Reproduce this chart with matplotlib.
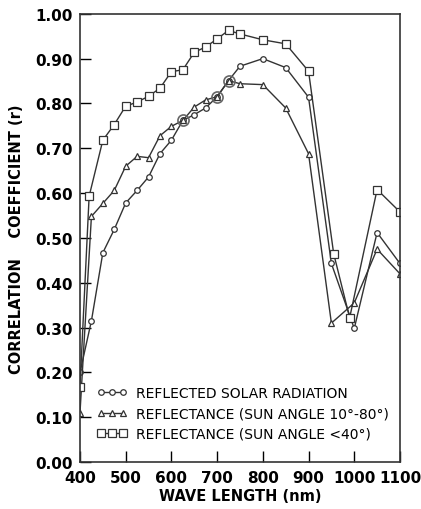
import matplotlib.pyplot as plt

# wave length (nm) and correlation coefficient r for each series
solar_x = [400, 425, 450, 475, 500, 525, 550, 575, 600, 625, 650, 675, 700,
           725, 750, 800, 850, 900, 950, 1000, 1050, 1100]
solar_r = [0.20, 0.315, 0.467, 0.519, 0.578, 0.606, 0.636, 0.688, 0.718, 0.762,
           0.775, 0.79, 0.815, 0.851, 0.883, 0.900, 0.880, 0.814, 0.443, 0.298,
           0.512, 0.443]

refl_all_x = [400, 425, 450, 475, 500, 525, 550, 575, 600, 625, 650, 675, 700,
              725, 750, 800, 850, 900, 950, 1000, 1050, 1100]
refl_all_r = [0.11, 0.548, 0.577, 0.606, 0.66, 0.682, 0.679, 0.728, 0.749, 0.762,
              0.792, 0.808, 0.815, 0.851, 0.844, 0.842, 0.79, 0.688, 0.31, 0.355,
              0.475, 0.42]

refl_40_x = [400, 420, 450, 475, 500, 525, 550, 575, 600, 625, 650, 675, 700,
             725, 750, 800, 850, 900, 955, 990, 1050, 1100]
refl_40_r = [0.168, 0.593, 0.718, 0.753, 0.794, 0.803, 0.816, 0.834, 0.871, 0.875,
             0.914, 0.926, 0.944, 0.963, 0.955, 0.942, 0.933, 0.872, 0.465, 0.322,
             0.608, 0.558]

# points where two series coincide (ringed in the original)
overlap_x = [625, 700, 725]
overlap_r = [0.762, 0.815, 0.851]

labels = ["REFLECTED SOLAR RADIATION",
          "REFLECTANCE (SUN ANGLE 10°-80°)",
          "REFLECTANCE (SUN ANGLE <40°)"]

plt.rcParams["font.family"] = ["DejaVu Sans"]

fig = plt.figure(figsize=(4.21, 5.10), dpi=100)
ax = fig.add_axes([0.19, 0.092, 0.76, 0.879])

line_kw = dict(color="#333333", lw=1.0, markerfacecolor="white",
               markeredgecolor="#333333", markeredgewidth=0.9)
ax.plot(solar_x, solar_r, marker="o", ms=4, label=labels[0], **line_kw)
ax.plot(refl_all_x, refl_all_r, marker="^", ms=4, label=labels[1], **line_kw)
ax.plot(refl_40_x, refl_40_r, marker="s", ms=5.5, label=labels[2], **line_kw)
ax.plot(overlap_x, overlap_r, ls="none", marker="o", ms=8,
        markerfacecolor="none", markeredgecolor="#666666", markeredgewidth=1.2)

ax.set_xlim(400, 1100)
ax.set_ylim(0.0, 1.0)
ax.set_xticks(range(400, 1101, 100))
ax.set_yticks([i / 10 for i in range(11)])
ax.set_yticklabels([f"{i / 10:.2f}" for i in range(11)])
ax.tick_params(direction="in", length=8, width=1.0, labelsize=11)
ax.tick_params(axis="x", pad=6)
ax.tick_params(axis="y", pad=5)
for lab in ax.get_xticklabels() + ax.get_yticklabels():
    lab.set_fontweight("bold")
for s in ax.spines.values():
    s.set_linewidth(1.2)
    s.set_color("#333333")

ax.set_xlabel("WAVE LENGTH (nm)", fontsize=10.5, fontweight="bold", labelpad=2)
ax.set_ylabel("CORRELATION    COEFFICIENT (r)", fontsize=10.5,
              fontweight="bold", labelpad=8)

ax.legend(loc="lower left", bbox_to_anchor=(0.035, 0.035), frameon=False,
          numpoints=3, handlelength=2.2, handletextpad=0.6, labelspacing=0.45,
          fontsize=10, borderaxespad=0)

fig.savefig("out.png", dpi=100)
